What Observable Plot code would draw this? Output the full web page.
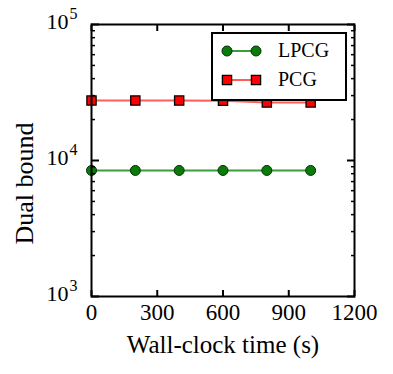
<!DOCTYPE html>
<html><head><meta charset="utf-8">
<script src="https://cdn.jsdelivr.net/npm/d3@7"></script>
<script src="https://cdn.jsdelivr.net/npm/@observablehq/plot@0.6"></script>
<style>body{margin:0;background:#fff}#chart svg{display:block}</style>
</head><body><div id="chart"></div>
<script>
const times = [0, 200, 400, 600, 800, 1000];
const lpcg = [8450, 8450, 8450, 8450, 8450, 8450];
const pcg = [27600, 27600, 27600, 27500, 26700, 26700];
const seriesNames = ["LPCG", "PCG"];
const xTicks = [0, 300, 600, 900, 1200];
const yMajor = [1e3, 1e4, 1e5];
const yMinor = [2, 3, 4, 5, 6, 7, 8, 9].flatMap(m => [m * 1e3, m * 1e4]);
const xLabel = "Wall-clock time (s)";
const yLabel = "Dual bound";

const lpcgRows = times.map((t, i) => ({t, v: lpcg[i]}));
const pcgRows = times.map((t, i) => ({t, v: pcg[i]}));
const GREEN_LINE = "#3a9e3a", GREEN_FILL = "#0b7a0b", GREEN_EDGE = "#023302";
const RED_LINE = "#ff5c5c", RED_FILL = "#ff0000";
const FONT = "Liberation Serif, DejaVu Serif";

const plot = Plot.plot({
  width: 393, height: 374,
  marginLeft: 91, marginRight: 39, marginTop: 24, marginBottom: 78,
  style: {fontFamily: FONT, background: "#fff", color: "#000"},
  x: {domain: [0, 1200]},
  y: {type: "log", domain: [1e3, 1e5]},
  marks: [
    Plot.line(lpcgRows, {x: "t", y: "v", stroke: GREEN_LINE, strokeWidth: 2}),
    Plot.line(pcgRows, {x: "t", y: "v", stroke: RED_LINE, strokeWidth: 2}),
    Plot.dot(lpcgRows, {x: "t", y: "v", r: 5, fill: GREEN_FILL, stroke: GREEN_EDGE, strokeWidth: 1}),
    Plot.dot(pcgRows, {x: "t", y: "v", r: 5.2, symbol: "square", fill: RED_FILL, stroke: "#000", strokeWidth: 1.3}),
    Plot.axisX({ticks: xTicks, anchor: "bottom", tickSize: 6, dy: -6, tickFormat: () => "", label: null, strokeWidth: 2}),
    Plot.axisX({ticks: xTicks, anchor: "top", tickSize: 6, dy: 6, tickFormat: () => "", label: null, strokeWidth: 2}),
    Plot.axisX({ticks: xTicks, anchor: "bottom", tickSize: 0, tickPadding: 7, fontSize: 23, fontFamily: FONT, tickFormat: d => String(d), label: null}),
    Plot.axisY({ticks: yMajor, anchor: "left", tickSize: 8, dx: 8, tickFormat: () => "", label: null, strokeWidth: 2}),
    Plot.axisY({ticks: yMinor, anchor: "left", tickSize: 4, dx: 4, tickFormat: () => "", label: null, strokeWidth: 1.5}),
    Plot.axisY({ticks: yMajor, anchor: "right", tickSize: 8, dx: -8, tickFormat: () => "", label: null, strokeWidth: 2}),
    Plot.axisY({ticks: yMinor, anchor: "right", tickSize: 4, dx: -4, tickFormat: () => "", label: null, strokeWidth: 1.5}),
    Plot.text(yMajor, {y: d => d, text: () => "10", frameAnchor: "left", textAnchor: "end", dx: -23, dy: -3, fontSize: 22, fontFamily: FONT}),
    Plot.text(yMajor, {y: d => d, text: d => String(Math.round(Math.log10(d))), frameAnchor: "left", textAnchor: "start", dx: -22, dy: -11, fontSize: 16, fontFamily: FONT}),
    Plot.text([xLabel], {frameAnchor: "bottom", textAnchor: "middle", lineAnchor: "middle", dy: 48, fontSize: 25, fontFamily: FONT}),
    Plot.text([yLabel], {frameAnchor: "left", textAnchor: "middle", lineAnchor: "middle", rotate: -90, dx: -67, dy: 23, fontSize: 26, fontFamily: FONT}),
    Plot.frame({stroke: "#000", strokeWidth: 2})
  ]
});

// Legend box drawn into the svg (inside the plot area, on top of data)
const svg = d3.select(plot);
const lg = svg.append("g").attr("font-family", FONT).attr("text-anchor", "start");
lg.append("rect").attr("x", 212).attr("y", 33).attr("width", 134).attr("height", 67)
  .attr("fill", "#fff").attr("stroke", "#000").attr("stroke-width", 2);
const rows = [
  {name: seriesNames[0], y: 51, line: GREEN_LINE, fill: GREEN_FILL, edge: GREEN_EDGE, shape: "circle"},
  {name: seriesNames[1], y: 80, line: RED_LINE, fill: RED_FILL, edge: "#000", shape: "square"}
];
for (const r of rows) {
  lg.append("line").attr("x1", 227).attr("x2", 256).attr("y1", r.y).attr("y2", r.y)
    .attr("stroke", r.line).attr("stroke-width", 2);
  for (const cx of [227, 256]) {
    if (r.shape === "circle") {
      lg.append("circle").attr("cx", cx).attr("cy", r.y).attr("r", 5)
        .attr("fill", r.fill).attr("stroke", r.edge).attr("stroke-width", 1);
    } else {
      lg.append("rect").attr("x", cx - 4.6).attr("y", r.y - 4.6).attr("width", 9.2).attr("height", 9.2)
        .attr("fill", r.fill).attr("stroke", r.edge).attr("stroke-width", 1.3);
    }
  }
  lg.append("text").attr("x", 278).attr("y", r.y).attr("dy", "0.32em")
    .attr("font-size", 20).text(r.name);
}
document.getElementById("chart").appendChild(plot);
</script>
</body></html>
